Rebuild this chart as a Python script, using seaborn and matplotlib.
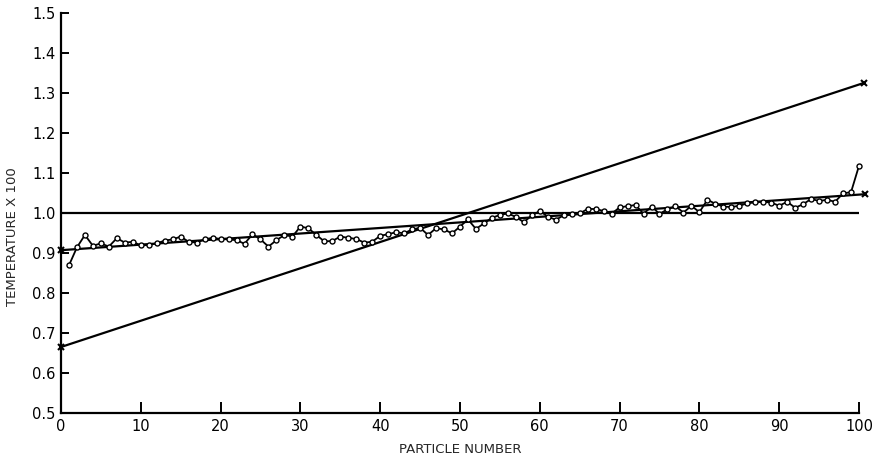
import numpy as np
import pandas as pd
import matplotlib
matplotlib.use("Agg")
import matplotlib.pyplot as plt
import seaborn as sns

# Temperature of each particle (x 100)
particle = list(range(1, 101))
temperature = [
    0.869, 0.914, 0.945, 0.918, 0.924, 0.916, 0.937, 0.926, 0.928, 0.919,
    0.920, 0.924, 0.931, 0.934, 0.941, 0.928, 0.926, 0.934, 0.938, 0.935,
    0.934, 0.932, 0.923, 0.947, 0.934, 0.916, 0.932, 0.945, 0.941, 0.966,
    0.962, 0.945, 0.929, 0.930, 0.941, 0.938, 0.935, 0.926, 0.928, 0.943,
    0.947, 0.952, 0.949, 0.959, 0.963, 0.945, 0.962, 0.959, 0.949, 0.966,
    0.984, 0.960, 0.974, 0.988, 0.995, 0.999, 0.990, 0.977, 0.994, 1.005,
    0.991, 0.983, 0.994, 0.997, 0.999, 1.010, 1.010, 1.005, 0.998, 1.014,
    1.017, 1.020, 0.998, 1.016, 0.998, 1.009, 1.017, 1.001, 1.018, 1.002,
    1.033, 1.023, 1.016, 1.015, 1.018, 1.024, 1.027, 1.028, 1.026, 1.018,
    1.028, 1.013, 1.022, 1.035, 1.030, 1.033, 1.028, 1.049, 1.052, 1.118,
]

# Reference temperature level
ref_x = [0, 100]
ref_y = [1.0, 1.0]

# Steep linear profile (end points)
steep_x = [0, 100.6]
steep_y = [0.665, 1.325]

# Linear trend through the particle temperatures (end points)
trend_x = [0, 100.8]
trend_y = [0.907, 1.047]

x_ticks = [0, 10, 20, 30, 40, 50, 60, 70, 80, 90, 100]
y_ticks = [0.5, 0.6, 0.7, 0.8, 0.9, 1.0, 1.1, 1.2, 1.3, 1.4, 1.5]
y_tick_labels = ["0.5", "0.6", "0.7", "0.8", "0.9", "1.0", "1.1", "1.2", "1.3", "1.4", "1.5"]

sns.set_style("ticks")
plt.rcParams["font.family"] = ["DejaVu Sans"]

fig = plt.figure(figsize=(8.76, 4.62), dpi=100)
ax = fig.add_axes([0.0696, 0.106, 0.9110, 0.866])

df = pd.DataFrame({"particle": particle, "temperature": temperature})

sns.lineplot(x=ref_x, y=ref_y, ax=ax, color="black", linewidth=1.6)
sns.lineplot(x=steep_x, y=steep_y, ax=ax, color="black", linewidth=1.6,
             marker="x", markersize=5, markeredgewidth=1.5,
             markeredgecolor="black", clip_on=False)
sns.lineplot(x=trend_x, y=trend_y, ax=ax, color="black", linewidth=1.6,
             marker="x", markersize=5, markeredgewidth=1.5,
             markeredgecolor="black", clip_on=False)
sns.lineplot(data=df, x="particle", y="temperature", ax=ax, color="black",
             linewidth=1.3, marker="o", markersize=3.6, markerfacecolor="white",
             markeredgecolor="black", markeredgewidth=1.0, clip_on=False)

ax.set_xlim(0, 100)
ax.set_ylim(0.5, 1.5)
ax.set_xticks(x_ticks)
ax.set_yticks(y_ticks)
ax.set_yticklabels(y_tick_labels)

for side in ("top", "right"):
    ax.spines[side].set_visible(False)
for side in ("left", "bottom"):
    ax.spines[side].set_linewidth(1.6)
    ax.spines[side].set_color("black")

ax.tick_params(axis="both", direction="in", colors="black", labelsize=10.5, width=1.4)
ax.tick_params(axis="x", length=8, pad=4)
ax.tick_params(axis="y", length=6, pad=4)

ax.set_xlabel("PARTICLE NUMBER", fontsize=9.5, labelpad=7)
ax.set_ylabel("TEMPERATURE X 100", fontsize=9.5, labelpad=10)
ax.yaxis.set_label_coords(-0.052, 0.44)

fig.savefig("out.png", dpi=100, facecolor="white")
